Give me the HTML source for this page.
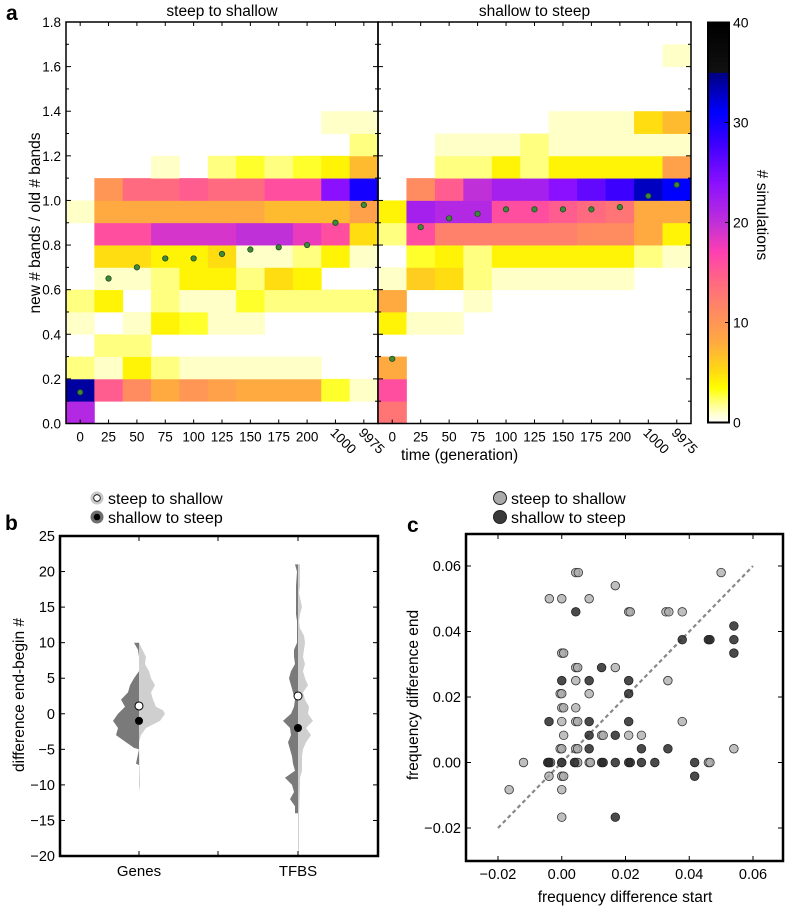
<!DOCTYPE html>
<html><head><meta charset="utf-8"><style>
html,body{margin:0;padding:0;background:#fff;}
svg{display:block;font-family:"Liberation Sans",sans-serif;}
</style></head><body>
<svg id="fig" width="786" height="906" viewBox="0 0 786 906" xmlns="http://www.w3.org/2000/svg"></svg>
<script>
// ---------- Panel a data ----------
const timeLabels = ["0","25","50","75","100","125","150","175","200","1000","9975"];
const yTicksA = [0.0,0.2,0.4,0.6,0.8,1.0,1.2,1.4,1.6,1.8];
const cbTicks = [0,10,20,30,40];
const leftCounts = [
 [21,34,2,0,1,2,0,0,0,1,0,0,0,0,0,0,0,0],
 [0,15,1,2,0,4,1,5,16,8,10,0,0,0,0,0,0,0],
 [0,11,4,2,1,0,1,5,16,8,14,0,0,0,0,0,0,0],
 [0,8,2,0,4,2,2,4,19,8,14,1,0,0,0,0,0,0],
 [0,10,1,0,3,1,4,4,19,8,15,0,0,0,0,0,0,0],
 [0,9,1,0,1,1,4,5,19,8,14,2,0,0,0,0,0,0],
 [0,8,1,0,1,3,2,1,20,8,14,3,0,0,0,0,0,0],
 [0,8,1,0,0,2,5,1,20,7,16,2,0,0,0,0,0,0],
 [0,8,1,0,0,2,4,2,18,7,16,3,0,0,0,0,0,0],
 [0,3,0,0,0,2,0,4,16,7,24,4,0,1,0,0,0,0],
 [0,1,0,0,0,2,0,1,5,9,30,7,2,1,0,0,0,0]
];
const rightCounts = [
 [13,16,8,0,4,8,1,0,2,4,0,0,0,0,0,0,0,0],
 [0,0,0,0,1,0,6,3,16,22,11,0,0,0,0,0,0,0],
 [0,0,0,0,1,0,5,4,12,21,15,2,1,0,0,0,0,0],
 [0,0,0,0,0,1,2,2,12,21,20,2,1,0,0,0,0,0],
 [0,0,0,0,0,0,1,4,12,16,22,4,1,0,0,0,0,0],
 [0,0,0,0,0,0,1,4,12,16,22,2,2,0,0,0,0,0],
 [0,0,0,0,0,0,1,4,12,15,24,4,1,1,0,0,0,0],
 [0,0,0,0,0,0,1,4,11,14,26,4,1,1,0,0,0,0],
 [0,0,0,0,0,0,1,4,11,13,28,4,1,1,0,0,0,0],
 [0,0,0,0,0,0,0,2,8,8,33,4,1,5,0,0,0,0],
 [0,0,0,0,0,0,0,1,4,8,31,9,1,7,0,0,1,0]
];
const leftMeans = [0.14,0.65,0.70,0.74,0.74,0.76,0.78,0.79,0.80,0.90,0.98];
const rightMeans = [0.29,0.88,0.92,0.94,0.96,0.96,0.96,0.96,0.97,1.02,1.07];

// ---------- Panel b data ----------
const bYTicks = [-20,-15,-10,-5,0,5,10,15,20,25];
const bCategories = ["Genes","TFBS"];
const genesDarkY = [10,9,8,6,5,4,3,2,1,0,-1,-2,-3,-4,-4.8,-5,-7,-7.2];
const genesDarkW = [5,1,0,0,5,9,11,18,14,21,26,21,23,13,5,0,3,0];
const genesLightY = [10,8,7,6,5,4,3,2,1,0.5,0,-1,-2,-3,-4,-10,-11];
const genesLightW = [0,7,6,10,12,16,12,14,17,24,26,21,7,2,0,1,0];
const tfbsDarkY = [21,20,18,14,13,10,9,8,7,6,5,4,3,2,1,0,-1,-2,-3,-4,-5,-6,-7,-8,-9,-10,-11,-12,-13,-14];
const tfbsDarkW = [3,1,2,2,1,1,4,4,3,7,9,7,5,3,4,7,15,8,7,10,8,6,5,3,13,6,4,8,3,3];
const tfbsLightY = [21,20,18,17,15,14,13,12,11,10,9,8,7,6,5,4,3,2,1,0,-1,-2,-3,-4,-5,-6,-7,-8,-9,-10,-14,-19,-20];
const tfbsLightW = [2,2,2,1,4,2,1,2,6,7,6,5,7,5,7,10,5,7,11,10,15,8,13,8,5,4,4,4,2,2,1,1,0];
const bMeansLight = [1.1,2.5];
const bMeansDark = [-1.0,-2.0];

// ---------- Panel c data ----------
const cTicks = [-0.02,0.00,0.02,0.04,0.06];
const lightX = [0.0044,0.0052,0.0168,-0.0039,0.000,0.0086,0.021,0.0215,0.0327,0.0336,0.0378,0.050,0.000,0.0006,0.0044,0.005,0.0168,0.0044,0.0333,-0.0005,0.000,0.0086,0.000,0.0006,0.0044,0.000,0.0044,0.005,0.0378,0.0006,0.0125,0.013,0.021,0.025,-0.0005,0.000,0.0044,0.005,0.054,-0.012,-0.004,-0.0035,0.000,0.0044,0.005,0.0086,0.009,0.046,0.0465,-0.004,0.000,0.0006,0.000,-0.0165,0.000];
const lightY = [0.058,0.058,0.054,0.050,0.050,0.050,0.046,0.046,0.046,0.046,0.046,0.058,0.0334,0.0334,0.029,0.029,0.029,0.025,0.025,0.021,0.021,0.021,0.0167,0.0167,0.0167,0.0125,0.0125,0.0125,0.0125,0.0083,0.0083,0.0083,0.0083,0.0083,0.0042,0.0042,0.0042,0.0042,0.0042,0,0,0,0,0,0,0,0,0,0,-0.0042,-0.0042,-0.0042,-0.0083,-0.0083,-0.0167];
const darkX = [0.0044,0.0125,0.000,0.0086,0.021,0.021,-0.004,0.0086,0.021,0.0086,0.0168,0.0086,0.025,0.0333,-0.0044,-0.004,0.000,0.004,0.0125,0.013,0.0168,0.021,0.0215,0.025,0.0292,0.0417,0.0417,0.0168,0.0378,0.046,0.0465,0.054,0.054,0.054];
const darkY = [0.046,0.029,0.025,0.025,0.025,0.021,0.0125,0.0125,0.0125,0.0083,0.0083,0.0042,0.0042,0.0042,0,0,0,0,0,0,0,0,0,0,0,0,-0.0042,-0.0167,0.0375,0.0375,0.0375,0.0417,0.0375,0.0334];

const NS="http://www.w3.org/2000/svg";
const svg=document.getElementById('fig');
function mk(tag,attrs,parent){const e=document.createElementNS(NS,tag);for(const k in attrs)e.setAttribute(k,attrs[k]);(parent||svg).appendChild(e);return e;}
function txt(s,attrs,parent){const e=mk('text',attrs,parent);e.textContent=s;return e;}

const cmStops=[[0,[255,255,255]],[1,[255,255,200]],[2,[255,255,128]],[3.5,[255,255,0]],[5,[255,221,16]],[8,[255,170,64]],[11,[255,140,96]],[14,[255,106,128]],[17,[255,64,176]],[20,[192,48,216]],[24,[138,16,255]],[28,[60,0,255]],[31,[0,0,255]],[35,[0,0,128]],[35.01,[17,17,17]],[40,[0,0,0]]];
function cmap(v){if(v<=0)return 'rgb(255,255,255)';for(let i=1;i<cmStops.length;i++){if(v<=cmStops[i][0]){const a=cmStops[i-1],b=cmStops[i];const t=(v-a[0])/(b[0]-a[0]);const c=a[1].map((x,j)=>Math.round(x+(b[1][j]-x)*t));return `rgb(${c[0]},${c[1]},${c[2]})`;}}return 'rgb(0,0,0)';}

// ---------- Panel a ----------
const aTop=22,aBot=423.5,aYmax=1.8;
const ay=v=>aBot-(v/aYmax)*(aBot-aTop);
const panelsA=[{x0:66,x1:378,counts:leftCounts,means:leftMeans,title:"steep to shallow",name:"steep-to-shallow"},{x0:378,x1:691,counts:rightCounts,means:rightMeans,title:"shallow to steep",name:"shallow-to-steep"}];
txt("a",{x:6,y:20,'font-size':21,'font-weight':'bold',});
panelsA.forEach(p=>{
  const g=mk('g',{});
  
  
  const n=timeLabels.length;const cw=(p.x1-p.x0)/n;
  const ax=i=>p.x0+cw*(i+0.5);
  p.counts.forEach((col,i)=>{col.forEach((v,r)=>{if(v<=0)return;
    const c=mk('rect',{x:(p.x0+cw*i).toFixed(2),y:ay(0.1*(r+1)).toFixed(2),width:(cw+0.4).toFixed(2),height:(ay(0)-ay(0.1)+0.4).toFixed(2),fill:cmap(v)},g);
    
    
  });});
  p.means.forEach((m,i)=>{const d=mk('circle',{cx:ax(i),cy:ay(m),r:2.7,fill:'#3f8a3a',stroke:'#1f4a1d','stroke-width':0.8},g);
    
    });
  mk('rect',{x:p.x0,y:aTop,width:p.x1-p.x0,height:aBot-aTop,fill:'none',stroke:'#000','stroke-width':1.5},g);
  for(let k=0;k<=18;k++){const v=k*0.1;const len=(k%2===0)?5:3;
    mk('line',{x1:p.x0,x2:p.x0+len,y1:ay(v),y2:ay(v),stroke:'#000','stroke-width':1},g);
    mk('line',{x1:p.x1,x2:p.x1-len,y1:ay(v),y2:ay(v),stroke:'#000','stroke-width':1},g);}
  timeLabels.forEach((l,i)=>{
    mk('line',{x1:ax(i),x2:ax(i),y1:aBot,y2:aBot-4,stroke:'#000'},g);
    mk('line',{x1:ax(i),x2:ax(i),y1:aTop,y2:aTop+4,stroke:'#000'},g);
    let t;
    if(i<9){t=txt(l,{x:ax(i),y:aBot+18,'font-size':13.5,'text-anchor':'middle'},g);}
    else{t=txt(l,{x:ax(i)-6,y:aBot+10,'font-size':13.5,transform:`rotate(45 ${ax(i)-6} ${aBot+10})`},g);}
    
    
  });
  const tt=txt(p.title,{x:(p.x0+p.x1)/2,y:16,'font-size':15.5,'text-anchor':'middle'},g);
  
  
});
yTicksA.forEach(v=>{const t=txt(v.toFixed(1),{x:61,y:ay(v)+5,'font-size':13.5,'text-anchor':'end'});
  
  });
txt("new # bands / old # bands",{x:40,y:223,'font-size':15.5,'text-anchor':'middle',transform:'rotate(-90 40 223)',});
txt("time (generation)",{x:401,y:460,'font-size':15.5,});
const cbX=708,cbW=21,cbTop=22.5,cbBot=422.5;const cby=v=>cbBot-(v/40)*(cbBot-cbTop);
const cbg=mk('g',{});
for(let k=0;k<200;k++){const v=(k+0.5)*0.2;mk('rect',{x:cbX,y:cby(v+0.1)-0.3,width:cbW,height:(cbBot-cbTop)/200+0.6,fill:cmap(v)},cbg);}
mk('rect',{x:cbX,y:cbTop,width:cbW,height:cbBot-cbTop,fill:'none',stroke:'#000','stroke-width':2},cbg);
cbTicks.forEach(v=>{mk('line',{x1:cbX+cbW,x2:cbX+cbW-4,y1:cby(v),y2:cby(v),stroke:'#000'},cbg);
  const t=txt(String(v),{x:cbX+cbW+4,y:cby(v)+5,'font-size':14},cbg);
  
  });
txt("# simulations",{x:757,y:215,'font-size':15.5,'text-anchor':'middle',transform:'rotate(90 757 215)',});

// ---------- Panel b ----------
const bX0=60,bX1=378,bTop=536,bBot=856;
const by=v=>bBot-(v+20)/45*(bBot-bTop);
const bCenters=[139,298];
txt("b",{x:5,y:530,'font-size':21,'font-weight':'bold',});
function violin(cx,ys,ws,side,fill,name){
  let pts=[[cx,by(ys[0])]];ys.forEach((y,i)=>pts.push([cx+side*ws[i],by(y)]));pts.push([cx,by(ys[ys.length-1])]);
  const p=mk('polygon',{points:pts.map(q=>q[0].toFixed(1)+','+q[1].toFixed(1)).join(' '),fill:fill});
  
  
}
violin(bCenters[0],genesDarkY,genesDarkW,-1,'#7a7a7a','genes-violin-shallow-to-steep');
violin(bCenters[0],genesLightY,genesLightW,1,'#cfcfcf','genes-violin-steep-to-shallow');
violin(bCenters[1],tfbsDarkY,tfbsDarkW,-1,'#7a7a7a','tfbs-violin-shallow-to-steep');
violin(bCenters[1],tfbsLightY,tfbsLightW,1,'#cfcfcf','tfbs-violin-steep-to-shallow');
bCenters.forEach((cx,i)=>{
  const a=mk('circle',{cx:cx,cy:by(bMeansLight[i]),r:4,fill:'#fff',stroke:'#000','stroke-width':1});
  
  
  const b=mk('circle',{cx:cx,cy:by(bMeansDark[i]),r:4,fill:'#000'});
  
  
  const t=txt(bCategories[i],{x:cx,y:876,'font-size':15,'text-anchor':'middle'});
  
  
  mk('line',{x1:cx,x2:cx,y1:bBot,y2:bBot-5,stroke:'#000'});mk('line',{x1:cx,x2:cx,y1:bTop,y2:bTop+5,stroke:'#000'});
});
mk('line',{x1:218,x2:218,y1:bBot,y2:bBot-5,stroke:'#000'});mk('line',{x1:218,x2:218,y1:bTop,y2:bTop+5,stroke:'#000'});
bYTicks.forEach(v=>{mk('line',{x1:bX0,x2:bX0+5,y1:by(v),y2:by(v),stroke:'#000'});mk('line',{x1:bX1,x2:bX1-5,y1:by(v),y2:by(v),stroke:'#000'});
  const t=txt(v<0?'\u2212'+(-v):String(v),{x:55,y:by(v)+5,'font-size':14.5,'text-anchor':'end'});
  
  });
mk('rect',{x:bX0,y:bTop,width:bX1-bX0,height:bBot-bTop,fill:'none',stroke:'#000','stroke-width':2.5,});
txt("difference end-begin #",{x:24,y:695,'font-size':15.5,'text-anchor':'middle',transform:'rotate(-90 24 695)',});
const lb=mk('g',{});
mk('circle',{cx:97,cy:498,r:6.5,fill:'#c8c8c8'},lb);mk('circle',{cx:97,cy:498,r:3.3,fill:'#fff',stroke:'#000','stroke-width':0.8},lb);
mk('circle',{cx:97,cy:517,r:6.5,fill:'#6e6e6e'},lb);mk('circle',{cx:97,cy:517,r:3.3,fill:'#000'},lb);
txt("steep to shallow",{x:108,y:504,'font-size':16},lb);
txt("shallow to steep",{x:108,y:523,'font-size':16},lb);

// ---------- Panel c ----------
const cX0=466,cX1=783,cTop=534,cBot=861;
const cx_=v=>498+(v+0.02)/0.08*(753-498);
const cy_=v=>828-(v+0.02)/0.08*(828-566);
txt("c",{x:407,y:532,'font-size':21,'font-weight':'bold',});
const dl=mk('line',{x1:cx_(-0.02),y1:cy_(-0.02),x2:cx_(0.06),y2:cy_(0.06),stroke:'#888','stroke-width':2.2,'stroke-dasharray':'4,3'});


lightX.forEach((x,i)=>{const c=mk('circle',{cx:cx_(x),cy:cy_(lightY[i]),r:4.3,fill:'#aaaaaa','fill-opacity':0.75,stroke:'#333','stroke-width':0.8});
  
  });
darkX.forEach((x,i)=>{const c=mk('circle',{cx:cx_(x),cy:cy_(darkY[i]),r:4.3,fill:'#2a2a2a','fill-opacity':0.85,stroke:'#222','stroke-width':0.8});
  
  });
cTicks.forEach(v=>{
  mk('line',{x1:cx_(v),x2:cx_(v),y1:cBot,y2:cBot-5,stroke:'#000'});mk('line',{x1:cx_(v),x2:cx_(v),y1:cTop,y2:cTop+5,stroke:'#000'});
  mk('line',{x1:cX0,x2:cX0+5,y1:cy_(v),y2:cy_(v),stroke:'#000'});mk('line',{x1:cX1,x2:cX1-5,y1:cy_(v),y2:cy_(v),stroke:'#000'});
  const s=(v<0?'\u2212':'')+Math.abs(v).toFixed(2);
  const t1=txt(s,{x:cx_(v),y:879,'font-size':14.5,'text-anchor':'middle'});
  
  
  const t2=txt(s,{x:461,y:cy_(v)+5,'font-size':14.5,'text-anchor':'end'});
  
  
});
mk('rect',{x:cX0,y:cTop,width:cX1-cX0,height:cBot-cTop,fill:'none',stroke:'#000','stroke-width':2.5,});
txt("frequency difference end",{x:418,y:695,'font-size':15.5,'text-anchor':'middle',transform:'rotate(-90 418 695)',});
txt("frequency difference start",{x:625,y:902,'font-size':15.5,'text-anchor':'middle',});
const lc=mk('g',{});
mk('circle',{cx:500,cy:498,r:6.5,fill:'#aaaaaa',stroke:'#222','stroke-width':1},lc);
mk('circle',{cx:500,cy:517,r:6.5,fill:'#3a3a3a',stroke:'#222','stroke-width':1},lc);
txt("steep to shallow",{x:511,y:504,'font-size':16},lc);
txt("shallow to steep",{x:511,y:523,'font-size':16},lc);
</script>
</body></html>
